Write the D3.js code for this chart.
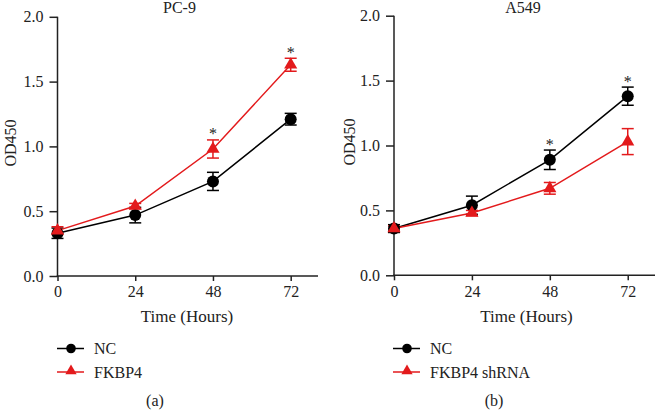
<!DOCTYPE html>
<html><head><meta charset="utf-8">
<script src="https://cdn.jsdelivr.net/npm/d3@7"></script>
<style>body{margin:0;background:#fff}svg{display:block}text{font-family:"Liberation Serif","Times New Roman",serif;fill:#222}</style>
</head><body><svg id="c" width="656" height="411"></svg>
<script>
const times = [0, 24, 48, 72];
const xTicks = [0, 24, 48, 72];
const yTicks = [0, 0.5, 1.0, 1.5, 2.0];
// PC-9
const pc9NC = [0.33, 0.47, 0.73, 1.21];
const pc9NCerr = [0.04, 0.06, 0.07, 0.045];
const pc9FK = [0.35, 0.54, 0.98, 1.63];
const pc9FKerr = [0.03, 0.02, 0.07, 0.05];
const pc9Stars = [false, false, true, true];
// A549
const a549NC = [0.36, 0.54, 0.89, 1.38];
const a549NCerr = [0.03, 0.07, 0.075, 0.07];
const a549FK = [0.36, 0.48, 0.67, 1.03];
const a549FKerr = [0.02, 0.02, 0.045, 0.1];
const a549Stars = [false, false, true, true];

const titles = ["PC-9", "A549"];
const seriesNames = [["NC", "FKBP4"], ["NC", "FKBP4 shRNA"]];
const panelLabels = ["(a)", "(b)"];
const RED = "#e31a1c";

const svg = d3.select("#c");
const panels = [
  {x0:57.5, x1:316.6, y0:276, y1:16.8, axEnd:318, title:titles[0], titleX:179.5, ytX:16, ytY:143, xtX:187,
   nc:pc9NC, ncE:pc9NCerr, fk:pc9FK, fkE:pc9FKerr, stars:pc9Stars, names:seriesNames[0], lab:panelLabels[0], labX:155, legX:57},
  {x0:394, x1:653.7, y0:275.3, y1:15.7, axEnd:655, title:titles[1], titleX:523, ytX:355, ytY:142, xtX:526.5,
   nc:a549NC, ncE:a549NCerr, fk:a549FK, fkE:a549FKerr, stars:a549Stars, names:seriesNames[1], lab:panelLabels[1], labX:494, legX:393}
];

const tri = d3.symbol().type(d3.symbolTriangle).size(75);

panels.forEach(p => {
  const g = svg.append("g");
  const x = d3.scaleLinear().domain([0, 80]).range([p.x0, p.x1]);
  const y = d3.scaleLinear().domain([0, 2]).range([p.y0, p.y1]);

  const ya = g.append("g").attr("transform", `translate(${p.x0},0)`)
    .call(d3.axisLeft(y).tickValues(yTicks).tickFormat(d3.format(".1f")).tickSize(8).tickPadding(6));
  const xa = g.append("g").attr("transform", `translate(0,${p.y0})`)
    .call(d3.axisBottom(x).tickValues(xTicks).tickSize(5).tickPadding(5));
  [ya, xa].forEach(a => {
    a.selectAll("path.domain").remove();
    a.selectAll("line").attr("stroke", "#222").attr("stroke-width", 1.5);
    a.selectAll("text").style("font-size", "16px").attr("fill", "#222");
  });
  g.append("line").attr("x1", p.x0).attr("x2", p.x0).attr("y1", y(2)).attr("y2", p.y0 + 0.75).attr("stroke", "#222").attr("stroke-width", 1.5);
  g.append("line").attr("x1", p.x0 - 0.75).attr("x2", p.axEnd).attr("y1", p.y0).attr("y2", p.y0).attr("stroke", "#222").attr("stroke-width", 1.5);

  g.append("text").attr("x", p.titleX).attr("y", 13).attr("text-anchor", "middle").style("font-size", "16px").text(p.title);
  g.append("text").attr("transform", `translate(${p.ytX},${p.ytY}) rotate(-90)`).attr("text-anchor", "middle").style("font-size", "16px").text("OD450");
  g.append("text").attr("x", p.xtX).attr("y", 322).attr("text-anchor", "middle").style("font-size", "17px").text("Time (Hours)");

  const series = [
    {v:p.nc, e:p.ncE, color:"#000", marker:"circle"},
    {v:p.fk, e:p.fkE, color:RED, marker:"tri"}
  ];
  series.forEach(s => {
    times.forEach((t, i) => {
      const cx = x(t), top = y(s.v[i] + s.e[i]), bot = y(s.v[i] - s.e[i]);
      g.append("line").attr("x1", cx).attr("x2", cx).attr("y1", top).attr("y2", bot).attr("stroke", s.color).attr("stroke-width", 1.5);
      [top, bot].forEach(yy => g.append("line").attr("x1", cx - 6).attr("x2", cx + 6).attr("y1", yy).attr("y2", yy).attr("stroke", s.color).attr("stroke-width", 1.5));
    });
  });
  const line = d3.line().x((d, i) => x(times[i])).y(d => y(d));
  series.forEach(s => {
    g.append("path").datum(s.v).attr("d", line).attr("fill", "none").attr("stroke", s.color).attr("stroke-width", 1.5);
  });
  series.forEach(s => {
    times.forEach((t, i) => {
      if (s.marker === "circle") g.append("circle").attr("cx", x(t)).attr("cy", y(s.v[i])).attr("r", 6).attr("fill", s.color);
      else g.append("path").attr("d", tri).attr("transform", `translate(${x(t)},${y(s.v[i])})`).attr("fill", s.color);
    });
  });
  times.forEach((t, i) => {
    if (!p.stars[i]) return;
    const topVal = Math.max(p.nc[i] + p.ncE[i], p.fk[i] + p.fkE[i]);
    g.append("text").attr("x", x(t)).attr("y", y(topVal) - 0.5).attr("text-anchor", "middle").style("font-size", "16px").attr("fill", "#444").text("*");
  });

  const rows = [{y:348.5, color:"#000", marker:"circle", name:p.names[0]}, {y:372, color:RED, marker:"tri", name:p.names[1]}];
  rows.forEach(r => {
    g.append("line").attr("x1", p.legX).attr("x2", p.legX + 27).attr("y1", r.y).attr("y2", r.y).attr("stroke", r.color).attr("stroke-width", 1.5);
    if (r.marker === "circle") g.append("circle").attr("cx", p.legX + 14).attr("cy", r.y).attr("r", 4.8).attr("fill", r.color);
    else g.append("path").attr("d", d3.symbol().type(d3.symbolTriangle).size(55)).attr("transform", `translate(${p.legX + 14},${r.y - 1})`).attr("fill", r.color);
    g.append("text").attr("x", p.legX + 37).attr("y", r.y + 5.5).style("font-size", "16px").text(r.name);
  });
  g.append("text").attr("x", p.labX).attr("y", 406).attr("text-anchor", "middle").style("font-size", "16px").text(p.lab);
});
</script></body></html>
